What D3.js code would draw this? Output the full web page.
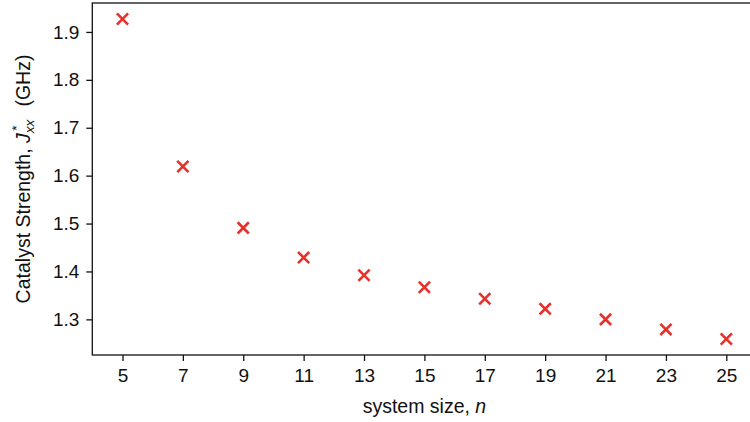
<!DOCTYPE html>
<html>
<head>
<meta charset="utf-8">
<script src="https://cdn.jsdelivr.net/npm/d3@7"></script>
<style>
  body { margin: 0; background: #fff; }
  text { font-family: "Liberation Sans", Arial, sans-serif; fill: #111; }
</style>
</head>
<body>
<script>
// system size n and fitted catalyst strength J*xx (GHz)
var sizes = [5, 7, 9, 11, 13, 15, 17, 19, 21, 23, 25];
var strength = [1.927, 1.619, 1.491, 1.429, 1.392, 1.367, 1.343, 1.322, 1.300, 1.279, 1.259];
var yTicks = [1.3, 1.4, 1.5, 1.6, 1.7, 1.8, 1.9];
var xTicks = sizes;

var W = 750, H = 422;
var plotL = 92.3, plotR = 756.5, plotT = 3, plotB = 355;

var svg = d3.select("body").append("svg")
  .attr("width", W).attr("height", H);

// matplotlib style 5% margins round the data
var ymin = d3.min(strength), ymax = d3.max(strength), pad = (ymax - ymin) * 0.05;
var x = d3.scaleLinear().domain([4, 26]).range([plotL, plotR]);
var y = d3.scaleLinear().domain([ymin - pad, ymax + pad]).range([plotB, plotT]);

// y axis
var ya = svg.append("g")
  .attr("transform", "translate(" + plotL + ",0)")
  .call(d3.axisLeft(y).tickValues(yTicks).tickFormat(d3.format(".1f")).tickSize(6).tickPadding(7));
// x axis
var xa = svg.append("g")
  .attr("transform", "translate(0," + plotB + ")")
  .call(d3.axisBottom(x).tickValues(xTicks).tickFormat(d3.format("d")).tickSize(6).tickPadding(8));

[ya, xa].forEach(function(g) {
  g.select(".domain").remove();
  g.selectAll(".tick line").attr("stroke", "#111").attr("stroke-width", 1.3);
  g.selectAll(".tick text").style("font-size", "19px").attr("fill", "#111");
});

// frame (right edge falls outside the picture)
svg.append("rect")
  .attr("x", plotL).attr("y", plotT)
  .attr("width", plotR - plotL).attr("height", plotB - plotT)
  .attr("fill", "none").attr("stroke", "#111").attr("stroke-width", 1.3);

// x markers
var s = 5.6;
svg.append("g").selectAll("path")
  .data(sizes.map(function(n, i) { return [n, strength[i]]; }))
  .enter().append("path")
  .attr("d", function(d) {
    var cx = x(d[0]), cy = y(d[1]);
    return "M" + (cx - s) + "," + (cy - s) + "L" + (cx + s) + "," + (cy + s) +
           "M" + (cx - s) + "," + (cy + s) + "L" + (cx + s) + "," + (cy - s);
  })
  .attr("stroke", "#e8302a")
  .attr("stroke-width", 2.6)
  .attr("fill", "none");

// axis labels
svg.append("text")
  .attr("x", (plotL + plotR) / 2).attr("y", 413)
  .attr("text-anchor", "middle")
  .style("font-size", "19.5px")
  .html('system size, <tspan font-style="italic">n</tspan>');

var yl = svg.append("text")
  .attr("transform", "translate(30," + (plotT + plotB) / 2 + ") rotate(-90)")
  .attr("text-anchor", "middle")
  .style("font-size", "19.5px")
  .style("white-space", "pre");
yl.append("tspan").text("Catalyst Strength, ");
yl.append("tspan").attr("font-style", "italic").text("J");
yl.append("tspan").attr("font-style", "italic").style("font-size", "13.5px").attr("dy", 4).text("xx");
yl.append("tspan").style("font-size", "13.5px").attr("dx", -11).attr("dy", -13).text("*");
yl.append("tspan").attr("dx", 8).attr("dy", 9).text("  (GHz)");
</script>
</body>
</html>
